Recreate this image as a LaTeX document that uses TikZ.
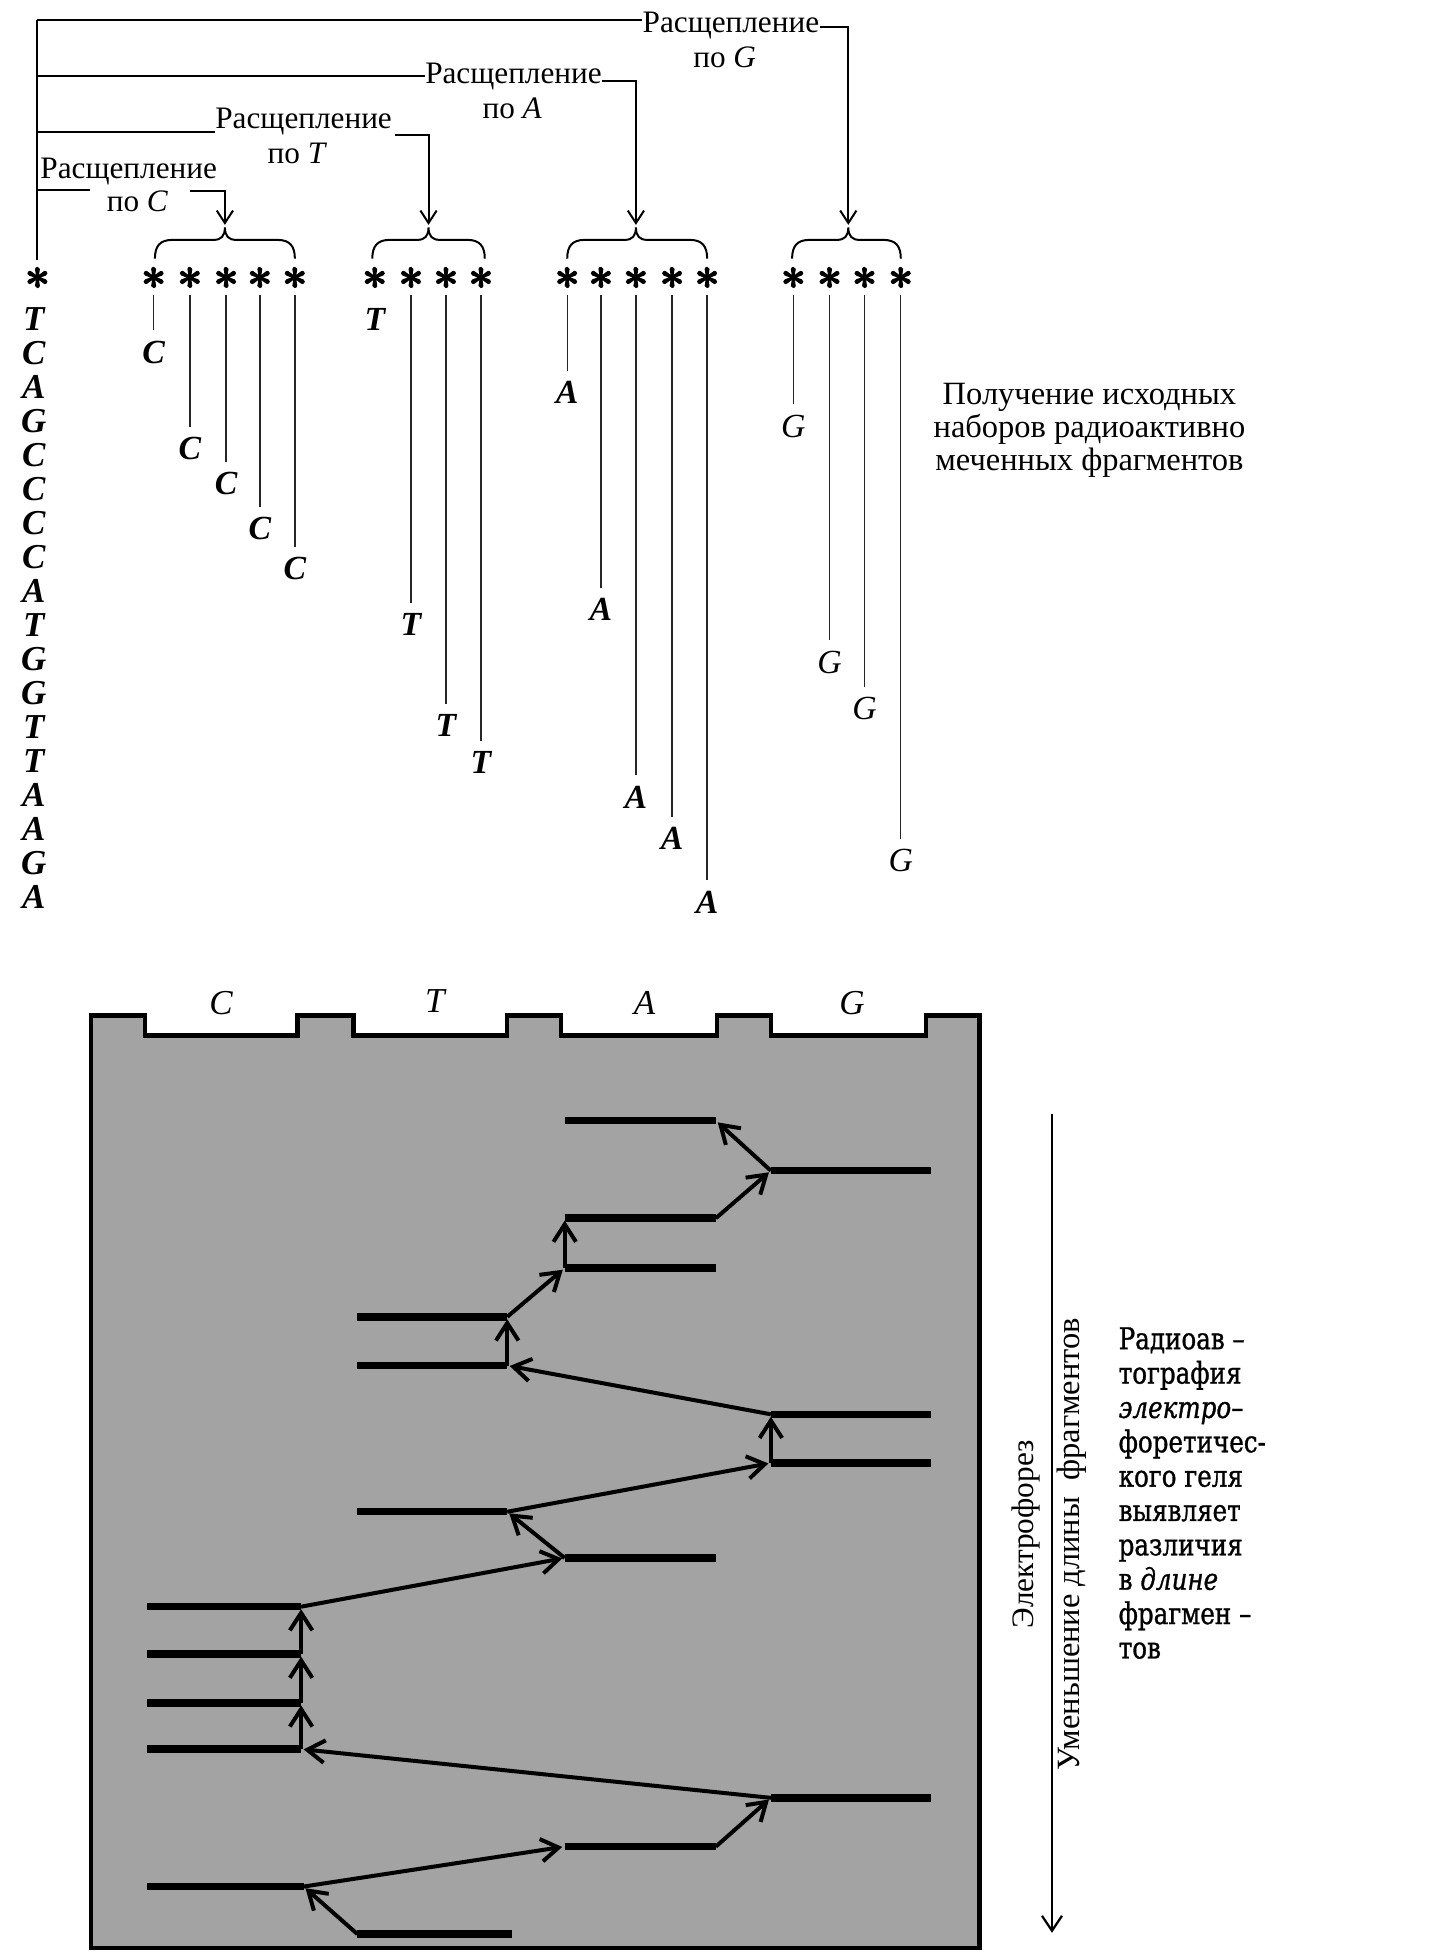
\documentclass[tikz,border=0pt]{standalone}
\usepackage{fontspec}
\setmainfont{Liberation Serif}
\newfontfamily\blockfont[FakeStretch=0.82,FakeBold=1]{DejaVu Serif}
\newfontfamily\astfont[FakeBold=2.5]{Latin Modern Roman}
\usetikzlibrary{arrows.meta}
\definecolor{gelgray}{gray}{0.64}
\newcommand\mybrace[4]{%
  \coordinate (#1) at (#3,182);
  \draw[thinline] (#2,207) .. controls (#2,197) and (#2+4,192) .. (#2+14,192)
    -- (#3-9,192) .. controls (#3-3,192) and (#3,189) .. (#1)
    .. controls (#3,189) and (#3+3,192) .. (#3+9,192)
    -- (#4-14,192) .. controls (#4-4,192) and (#4,197) .. (#4,207);}
\newcommand\gband[4]{%
  \coordinate (#1L) at (#2,#4); \coordinate (#1R) at (#3,#4);
  \draw[gelband] (#1L) -- (#1R);}
\newcommand\astglyph{\raisebox{-0.31em}[0.44em][0pt]{*}}
\begin{document}
\begin{tikzpicture}[x=0.5pt,y=-0.5pt,
  thinline/.style={line width=0.8pt},
  frag/.style={line width=0.55pt, black!85, shorten >=4pt, shorten <=3pt},
  splittext/.style={font=\fontsize{12.5}{13}\selectfont, inner sep=0pt, anchor=base},
  seqcol/.style={font=\fontsize{14}{13.6}\selectfont\bfseries\itshape, inner sep=0pt, align=center},
  lbl/.style={font=\fontsize{13.5}{14}\selectfont\bfseries\itshape, inner sep=0pt},
  lblg/.style={font=\fontsize{13.5}{14}\selectfont\itshape, inner sep=0pt},
  astsym/.style={font=\astfont\bfseries\fontsize{18}{18}\selectfont, inner sep=0pt},
  toparrow/.style={thinline, -{Straight Barb[length=5pt,width=6.5pt]}},
  lane/.style={font=\fontsize{14}{14}\selectfont\itshape, inner sep=0pt},
  gelband/.style={line width=3pt},
  gelarrow/.style={line width=1.6pt, -{Straight Barb[length=7pt,width=9pt]}, shorten >=1pt},
  rot/.style={rotate=90, font=\fontsize{12.5}{13}\selectfont, inner sep=0pt},
]
\useasboundingbox (0,0) rectangle (1165,1568);

% ---------- cleavage scheme ----------
\coordinate (trTop) at (30,16);
\coordinate (trBot) at (30,208);
\draw[thinline] (trTop) -- (trBot);
\node[astsym] (s0) at (30,222) {\astglyph};
\node[seqcol, anchor=north] (seq) at (27,246) {T\\C\\A\\G\\C\\C\\C\\C\\A\\T\\G\\G\\T\\T\\A\\A\\G\\A};

% braces
\mybrace{brC}{124}{180}{236}
\mybrace{brT}{298}{343}{388}
\mybrace{brA}{454}{509}{566}
\mybrace{brG}{634}{679}{721}

% G
\node[splittext] (splG) at (585,26) {Расщепление};
\node[splittext] (poG) at (580,54) {по \textit{G}};
\coordinate (gA) at (514,16);
\draw[thinline] (trTop) -- (gA);
\coordinate (gB) at (656,22); \coordinate (gC) at (679,22);
\draw[toparrow] (gB) -- (gC) -- ([yshift=1pt]brG);
% A
\node[splittext] (splA) at (411,67) {Расщепление};
\node[splittext] (poA) at (410,95) {по \textit{A}};
\coordinate (aJ) at (30,61); \coordinate (aA) at (340,61);
\draw[thinline] (aJ) -- (aA);
\coordinate (aB) at (482,65); \coordinate (aC) at (509,65);
\draw[toparrow] (aB) -- (aC) -- ([yshift=1pt]brA);
% T
\node[splittext] (splT) at (243,103) {Расщепление};
\node[splittext] (poT) at (238,131) {по \textit{T}};
\coordinate (tJ) at (30,106); \coordinate (tA) at (172,106);
\draw[thinline] (tJ) -- (tA);
\coordinate (tB) at (316,108); \coordinate (tC) at (343,108);
\draw[toparrow] (tB) -- (tC) -- ([yshift=1pt]brT);
% C
\node[splittext] (splC) at (103,143) {Расщепление};
\node[splittext] (poC) at (110,169) {по \textit{C}};
\coordinate (cJ) at (30,152); \coordinate (cA) at (72,152);
\draw[thinline] (cJ) -- (cA);
\coordinate (cB) at (152,153); \coordinate (cC) at (180,153);
\draw[toparrow] (cB) -- (cC) -- ([yshift=1pt]brC);

% fragments C
\foreach \i/\x/\ly in {1/123/282, 2/152/359, 3/181/387, 4/208/423, 5/236/455} {
  \node[astsym] (sC\i) at (\x,222) {\astglyph};
  \node[lbl] (lC\i) at (\x,\ly) {C};
  \draw[frag] (sC\i.south) -- (sC\i.south |- lC\i.north);
}
% fragments T
\node[astsym] (sT1) at (300,222) {\astglyph};
\node[lbl] (lT1) at (300,256) {T};
\foreach \i/\x/\ly in {2/329/500, 3/357/581, 4/385/610} {
  \node[astsym] (sT\i) at (\x,222) {\astglyph};
  \node[lbl] (lT\i) at (\x,\ly) {T};
  \draw[frag] (sT\i.south) -- (sT\i.south |- lT\i.north);
}
% fragments A
\foreach \i/\x/\ly in {1/454/314, 2/481/488, 3/509/638, 4/538/671, 5/566/722} {
  \node[astsym] (sA\i) at (\x,222) {\astglyph};
  \node[lbl] (lA\i) at (\x,\ly) {A};
  \draw[frag] (sA\i.south) -- (sA\i.south |- lA\i.north);
}
% fragments G
\foreach \i/\x/\ly in {1/635/341, 2/664/530, 3/692/567, 4/721/689} {
  \node[astsym] (sG\i) at (\x,222) {\astglyph};
  \node[lblg] (lG\i) at (\x,\ly) {G};
  \draw[frag] (sG\i.south) -- (sG\i.south |- lG\i.north);
}

\node[font=\fontsize{13}{13.25}\selectfont, align=center, anchor=north, inner sep=0pt] (poluch) at (872,306)
  {Получение исходных\\наборов радиоактивно\\меченных фрагментов};

% ---------- gel ----------
\draw[line width=1.8pt, fill=gelgray, line join=miter]
  (73,813) -- (116,813) -- (116,829) -- (238,829) -- (238,813) -- (283,813) -- (283,829)
  -- (406,829) -- (406,813) -- (449,813) -- (449,829) -- (574,829) -- (574,813)
  -- (617,813) -- (617,829) -- (741,829) -- (741,813) -- (784,813) -- (784,1559)
  -- (73,1559) -- cycle;
\node[lane] (laneC) at (177,803) {C};
\node[lane] (laneT) at (348,801) {T};
\node[lane] (laneA) at (516,803) {A};
\node[lane] (laneG) at (682,803) {G};

\gband{b1}{286}{410}{1548}
\gband{b2}{118}{243}{1510}
\gband{b3}{452}{573}{1478}
\gband{b4}{617}{745}{1439}
\gband{b5}{118}{241}{1400}
\gband{b6}{118}{241}{1363}
\gband{b7}{118}{241}{1324}
\gband{b8}{118}{241}{1286}
\gband{b9}{452}{573}{1247}
\gband{b10}{286}{406}{1210}
\gband{b11}{617}{745}{1171}
\gband{b12}{617}{745}{1132}
\gband{b13}{286}{406}{1093}
\gband{b14}{286}{406}{1054}
\gband{b15}{452}{573}{1015}
\gband{b16}{452}{573}{975}
\gband{b17}{617}{745}{937}
\gband{b18}{452}{573}{897}

\draw[gelarrow] (b1L) -- (b2R);
\draw[gelarrow] (b2R) -- (b3L);
\draw[gelarrow] (b3R) -- (b4L);
\draw[gelarrow] (b4L) -- (b5R);
\draw[gelarrow] (b5R) -- (b6R);
\draw[gelarrow] (b6R) -- (b7R);
\draw[gelarrow] (b7R) -- (b8R);
\draw[gelarrow] (b8R) -- (b9L);
\draw[gelarrow] (b9L) -- (b10R);
\draw[gelarrow] (b10R) -- (b11L);
\draw[gelarrow] (b11L) -- (b12L);
\draw[gelarrow] (b12L) -- (b13R);
\draw[gelarrow] (b13R) -- (b14R);
\draw[gelarrow] (b14R) -- (b15L);
\draw[gelarrow] (b15L) -- (b16L);
\draw[gelarrow] (b16R) -- (b17L);
\draw[gelarrow] (b17L) -- (b18R);

% ---------- right side ----------
\coordinate (eTop) at (842,892);
\coordinate (eBot) at (842,1547);
\draw[line width=0.9pt, -{Straight Barb[length=6pt,width=8pt]}] (eTop) -- (eBot);
\node[rot] (elf) at (821,1228) {Электрофорез};
\node[rot, font=\fontsize{13}{13}\selectfont] (umen) at (858,1236) {Уменьшение длины\ \ фрагментов};
\node[font=\blockfont\fontsize{12}{13.75}\selectfont, align=left, anchor=north west, inner sep=0pt] (radio) at (895,1062)
  {Радиоав –\\тография\\\textit{электро}–\\форетичес-\\кого геля\\выявляет\\различия\\в \textit{длине}\\фрагмен –\\тов};
\end{tikzpicture}
\end{document}
